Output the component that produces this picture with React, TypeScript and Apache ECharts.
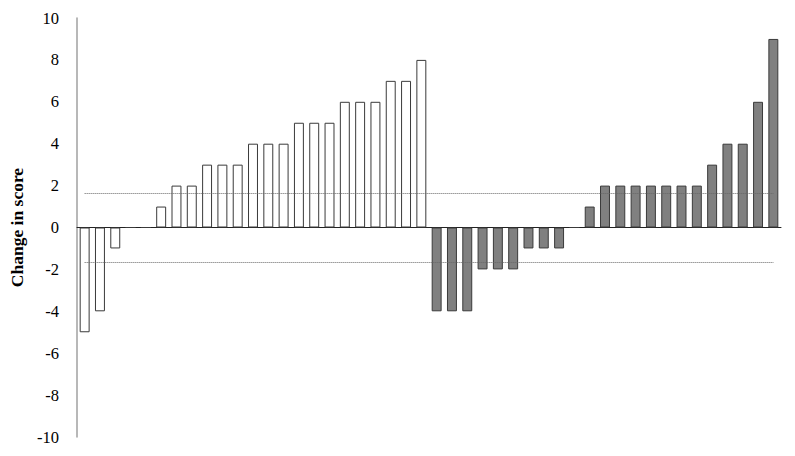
import { useEffect, useRef } from "react";
import * as echarts from "echarts";

// change in score per patient, sorted within each group
const whiteScores = [-5, -4, -1, 0, 0, 1, 2, 2, 3, 3, 3, 4, 4, 4, 5, 5, 5, 6, 6, 6, 7, 7, 8];
const greyScores = [-4, -4, -4, -2, -2, -2, -1, -1, -1, 0, 1, 2, 2, 2, 2, 2, 2, 2, 3, 4, 4, 6, 9];
const refLines = [1.65, -1.65];
const yTicks = { min: -10, max: 10, interval: 2 };

const categories = [...whiteScores, ...greyScores].map((_, i) => String(i + 1));

export default function App() {
  const chartRef = useRef<HTMLDivElement | null>(null);

  useEffect(() => {
    if (!chartRef.current) return;
    const chart = echarts.init(chartRef.current, undefined, { renderer: "svg" });

    const barData = [
      ...whiteScores.map((v) => ({
        value: v,
        itemStyle: { color: "#ffffff", borderColor: "#3a3a3a", borderWidth: 1 },
      })),
      ...greyScores.map((v) => ({
        value: v,
        itemStyle: { color: "#808080", borderColor: "#3a3a3a", borderWidth: 1 },
      })),
    ];

    const first = categories[0];
    const last = categories[categories.length - 1];

    chart.setOption({
      animation: false,
      grid: { left: 77, right: 14, top: 18, bottom: 19 },
      xAxis: {
        type: "category",
        data: categories,
        axisLine: { onZero: true, lineStyle: { color: "#222", width: 1 } },
        axisTick: { show: false },
        axisLabel: { show: false },
        splitLine: { show: false },
      },
      yAxis: {
        type: "value",
        min: yTicks.min,
        max: yTicks.max,
        interval: yTicks.interval,
        name: "Change in score",
        nameLocation: "middle",
        nameGap: 51,
        nameTextStyle: {
          fontFamily: "Liberation Serif",
          fontWeight: "bold",
          fontSize: 17.5,
          color: "#000",
        },
        axisLine: { show: true, lineStyle: { color: "#a0a0a0", width: 1.5 } },
        axisTick: { show: false },
        splitLine: { show: false },
        axisLabel: {
          margin: 18,
          fontFamily: "Liberation Serif",
          fontSize: 16.5,
          color: "#000",
        },
      },
      series: [
        {
          type: "bar",
          data: barData,
          barCategoryGap: "35%",
          markLine: {
            silent: true,
            symbol: "none",
            label: { show: false },
            lineStyle: { type: "dotted", color: "#666", width: 1 },
            data: refLines.map((y) => [
              { coord: [first, y] },
              { coord: [last, y] },
            ]),
          },
        },
      ],
    });

    return () => chart.dispose();
  }, []);

  return (
    <div
      ref={chartRef}
      style={{ position: "absolute", left: 0, top: 0, width: 795, height: 456, background: "#fff" }}
    />
  );
}
